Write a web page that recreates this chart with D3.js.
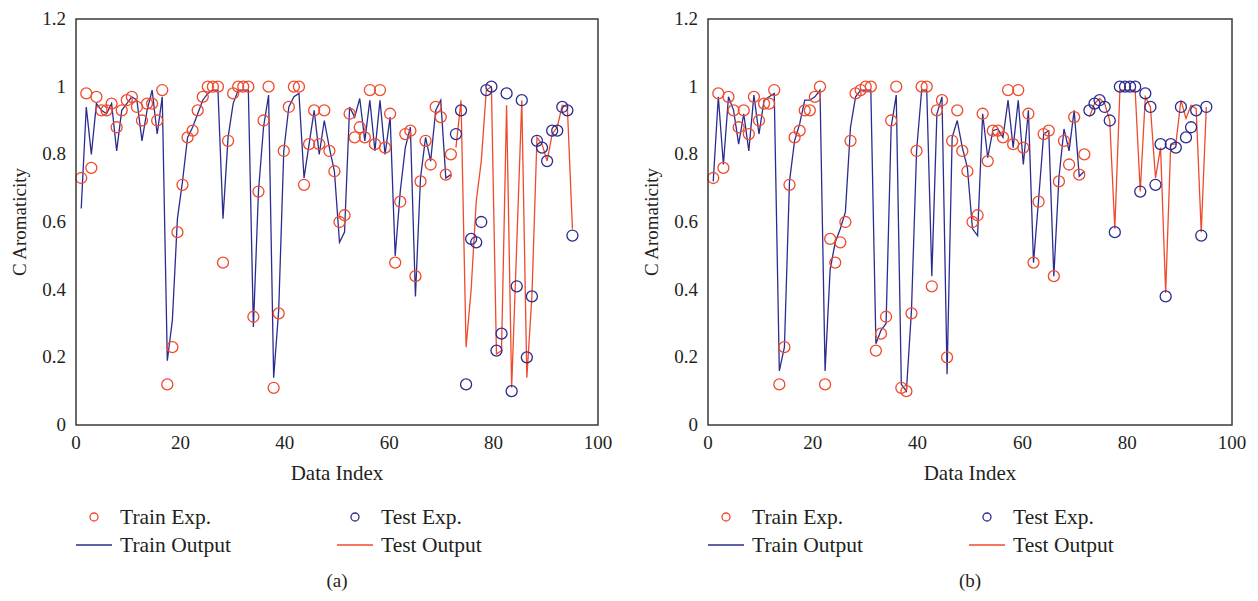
<!DOCTYPE html>
<html>
<head>
<meta charset="utf-8">
<script src="https://d3js.org/d3.v7.min.js"></script>
<style>
  body { margin: 0; background: #fff; }
  svg text { font-family: "Liberation Serif", "DejaVu Serif", serif; fill: #231f20; }
</style>
</head>
<body>
<svg id="chart" width="1258" height="601"></svg>
<script>
// (a) experimental values and network output, 74 train points then 24 test points
var trainExpA = [0.73, 0.98, 0.76, 0.97, 0.93, 0.93, 0.95, 0.88, 0.93, 0.96,
                 0.97, 0.94, 0.90, 0.95, 0.95, 0.90, 0.99, 0.12, 0.23, 0.57,
                 0.71, 0.85, 0.87, 0.93, 0.97, 1.00, 1.00, 1.00, 0.48, 0.84,
                 0.98, 1.00, 1.00, 1.00, 0.32, 0.69, 0.90, 1.00, 0.11, 0.33,
                 0.81, 0.94, 1.00, 1.00, 0.71, 0.83, 0.93, 0.83, 0.93, 0.81,
                 0.75, 0.60, 0.62, 0.92, 0.85, 0.88, 0.85, 0.99, 0.83, 0.99,
                 0.82, 0.92, 0.48, 0.66, 0.86, 0.87, 0.44, 0.72, 0.84, 0.77,
                 0.94, 0.91, 0.74, 0.80];
var trainOutA = [0.64, 0.94, 0.80, 0.95, 0.93, 0.92, 0.95, 0.81, 0.93, 0.95,
                 0.97, 0.96, 0.84, 0.93, 0.99, 0.86, 0.97, 0.19, 0.31, 0.61,
                 0.72, 0.85, 0.88, 0.92, 0.96, 0.98, 0.99, 0.99, 0.61, 0.85,
                 0.95, 0.99, 0.99, 0.99, 0.29, 0.69, 0.88, 0.975, 0.14, 0.34,
                 0.81, 0.94, 0.97, 0.98, 0.73, 0.83, 0.93, 0.80, 0.90, 0.82,
                 0.75, 0.54, 0.57, 0.94, 0.91, 0.965, 0.84, 0.96, 0.81, 0.96,
                 0.80, 0.91, 0.50, 0.69, 0.82, 0.88, 0.38, 0.73, 0.85, 0.78,
                 0.93, 0.96, 0.73, 0.74];
var testExpA = [0.86, 0.93, 0.12, 0.55, 0.54, 0.60, 0.99, 1.00, 0.22, 0.27,
                0.98, 0.10, 0.41, 0.96, 0.20, 0.38, 0.84, 0.82, 0.78, 0.87,
                0.87, 0.94, 0.93, 0.56];
var testOutA = [0.82, 0.96, 0.23, 0.40, 0.66, 0.78, 0.99, 1.00, 0.21, 0.22,
                0.945, 0.11, 0.53, 0.96, 0.14, 0.38, 0.85, 0.83, 0.78, 0.86,
                0.88, 0.945, 0.94, 0.58];

// (b)
var trainExpB = [0.73, 0.98, 0.76, 0.97, 0.93, 0.88, 0.93, 0.86, 0.97, 0.90,
                 0.95, 0.95, 0.99, 0.12, 0.23, 0.71, 0.85, 0.87, 0.93, 0.93,
                 0.97, 1.00, 0.12, 0.55, 0.48, 0.54, 0.60, 0.84, 0.98, 0.99,
                 1.00, 1.00, 0.22, 0.27, 0.32, 0.90, 1.00, 0.11, 0.10, 0.33,
                 0.81, 1.00, 1.00, 0.41, 0.93, 0.96, 0.20, 0.84, 0.93, 0.81,
                 0.75, 0.60, 0.62, 0.92, 0.78, 0.87, 0.87, 0.85, 0.99, 0.83,
                 0.99, 0.82, 0.92, 0.48, 0.66, 0.86, 0.87, 0.44, 0.72, 0.84,
                 0.77, 0.91, 0.74, 0.80];
var trainOutB = [0.72, 0.97, 0.77, 0.97, 0.93, 0.83, 0.92, 0.81, 0.975, 0.86,
                 0.96, 0.97, 0.98, 0.16, 0.23, 0.72, 0.84, 0.89, 0.96, 0.96,
                 0.97, 0.99, 0.16, 0.46, 0.54, 0.58, 0.63, 0.88, 0.97, 0.99,
                 0.99, 0.99, 0.24, 0.28, 0.30, 0.88, 0.975, 0.12, 0.10, 0.34,
                 0.81, 0.99, 0.99, 0.44, 0.92, 0.97, 0.15, 0.85, 0.90, 0.82,
                 0.76, 0.58, 0.56, 0.92, 0.79, 0.87, 0.875, 0.85, 0.96, 0.82,
                 0.96, 0.77, 0.93, 0.48, 0.665, 0.86, 0.87, 0.44, 0.73, 0.875,
                 0.81, 0.93, 0.735, 0.75];
var testExpB = [0.93, 0.95, 0.96, 0.94, 0.90, 0.57, 1.00, 1.00, 1.00, 1.00,
                0.69, 0.98, 0.94, 0.71, 0.83, 0.38, 0.83, 0.82, 0.94, 0.85,
                0.88, 0.93, 0.56, 0.94];
var testOutB = [0.91, 0.95, 0.965, 0.95, 0.90, 0.58, 0.99, 0.99, 0.99, 0.99,
                0.69, 0.97, 0.94, 0.73, 0.82, 0.39, 0.83, 0.83, 0.96, 0.906,
                0.945, 0.935, 0.57, 0.94];

var yTicks = [0, 0.2, 0.4, 0.6, 0.8, 1, 1.2];
var xTicks = [0, 20, 40, 60, 80, 100];
var legendItems = ["Train Exp.", "Test Exp.", "Train Output", "Test Output"];

var red = "#f04a2c", blue = "#2b2d8e";
var svg = d3.select("#chart");

function drawPanel(p) {
  var train = p.trainExp.map(function(v, i) { return {i: i + 1, v: v}; });
  var trainOut = p.trainOut.map(function(v, i) { return {i: i + 1, v: v}; });
  var n0 = p.trainExp.length;
  var test = p.testExp.map(function(v, i) { return {i: n0 + i + 1, v: v}; });
  var testOut = p.testOut.map(function(v, i) { return {i: n0 + i + 1, v: v}; });
  var n = n0 + p.testExp.length;

  var x = d3.scaleLinear().domain([0, 100]).range([p.left, p.right]);
  // sample number -> position on the Data Index axis
  var idx = d3.scaleLinear().domain([1, n]).range([1, 95.1]);
  var y = d3.scaleLinear().domain([0, 1.2]).range([425, 19]);
  var px = function(d) { return x(idx(d.i)); };
  var py = function(d) { return y(d.v); };

  var g = svg.append("g");

  g.append("g").selectAll("text").data(yTicks).enter().append("text")
    .attr("x", p.left - 10).attr("y", function(d) { return y(d) + 6; })
    .attr("text-anchor", "end").attr("font-size", 19)
    .text(function(d) { return String(d); });
  g.append("g").selectAll("text").data(xTicks).enter().append("text")
    .attr("x", function(d) { return x(d); }).attr("y", 449)
    .attr("text-anchor", "middle").attr("font-size", 19)
    .text(function(d) { return String(d); });

  var line = d3.line().x(px).y(py);
  g.append("path").datum(trainOut).attr("d", line)
    .attr("fill", "none").attr("stroke", blue).attr("stroke-width", 1.3);
  g.append("path").datum(testOut).attr("d", line)
    .attr("fill", "none").attr("stroke", red).attr("stroke-width", 1.3);

  g.append("g").selectAll("circle").data(train).enter().append("circle")
    .attr("cx", px).attr("cy", py).attr("r", 5.5)
    .attr("fill", "none").attr("stroke", red).attr("stroke-width", 1.3);
  g.append("g").selectAll("circle").data(test).enter().append("circle")
    .attr("cx", px).attr("cy", py).attr("r", 5.5)
    .attr("fill", "none").attr("stroke", blue).attr("stroke-width", 1.3);

  g.append("rect").attr("x", p.left).attr("y", 19)
    .attr("width", p.right - p.left).attr("height", 406)
    .attr("fill", "none").attr("stroke", "#3a3a3a").attr("stroke-width", 1.5);

  var mid = (p.left + p.right) / 2;
  g.append("text").attr("x", mid).attr("y", 480).attr("text-anchor", "middle")
    .attr("font-size", 21).text("Data Index");
  g.append("text").attr("transform", "translate(" + (p.left - 50) + ",222) rotate(-90)")
    .attr("text-anchor", "middle").attr("font-size", 19).text("C Aromaticity");

  // legend, two columns
  var lg = g.append("g");
  var colX = [p.left, p.left + 261];
  legendItems.forEach(function(name, k) {
    var cx = colX[k % 2], cy = k < 2 ? 517 : 545;
    var col = (k === 0 || k === 3) ? red : blue;
    if (k < 2) {
      lg.append("circle").attr("cx", cx + 18).attr("cy", cy).attr("r", 4)
        .attr("fill", "none").attr("stroke", col).attr("stroke-width", 1.3);
    } else {
      lg.append("line").attr("x1", cx).attr("x2", cx + 36).attr("y1", cy).attr("y2", cy)
        .attr("stroke", col).attr("stroke-width", 1.3);
    }
    lg.append("text").attr("x", cx + 44).attr("y", cy + 7).attr("font-size", 21.5).text(name);
  });

  g.append("text").attr("x", mid).attr("y", 587).attr("text-anchor", "middle")
    .attr("font-size", 19).text(p.tag);
}

drawPanel({left: 76, right: 598, tag: "(a)",
  trainExp: trainExpA, trainOut: trainOutA, testExp: testExpA, testOut: testOutA});
drawPanel({left: 708, right: 1232, tag: "(b)",
  trainExp: trainExpB, trainOut: trainOutB, testExp: testExpB, testOut: testOutB});
</script>
</body>
</html>
